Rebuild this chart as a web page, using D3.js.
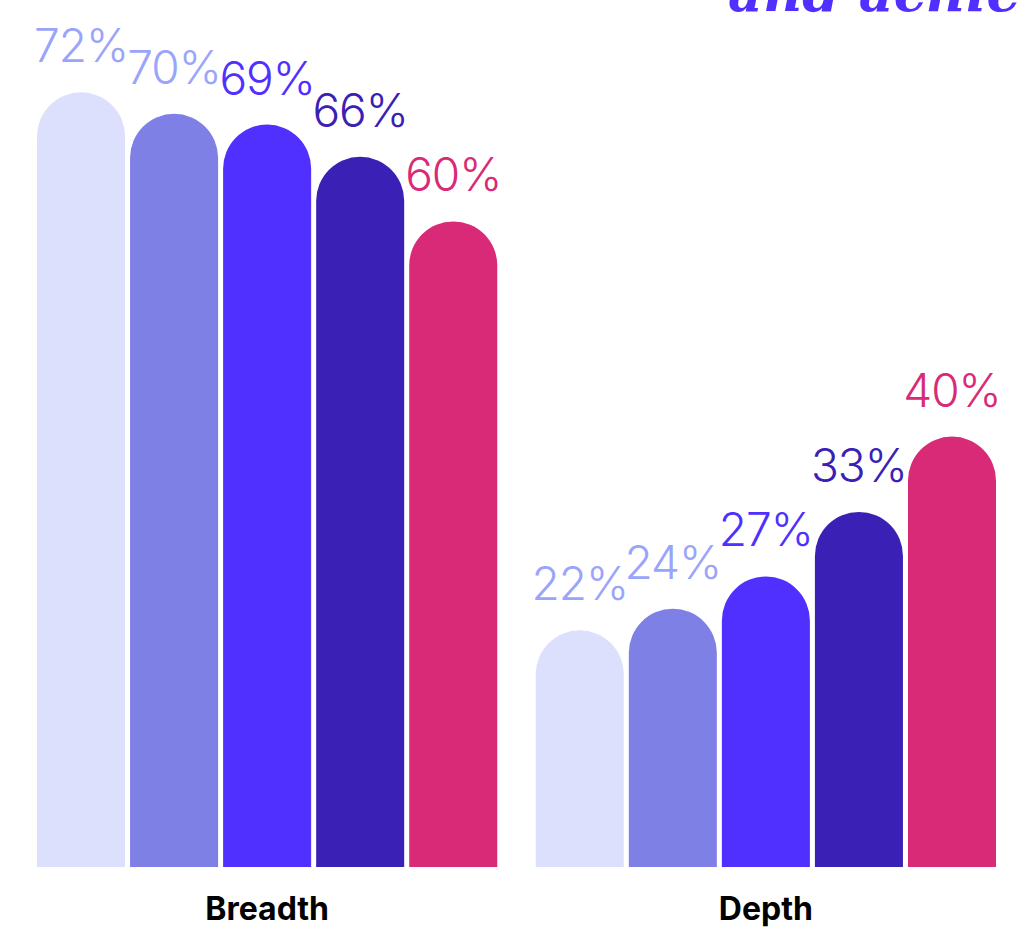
<!DOCTYPE html>
<html>
<head>
<meta charset="utf-8">
<script src="https://cdn.jsdelivr.net/npm/d3@7"></script>
<style>
  body { margin: 0; background: #fff; }
  svg { display: block; font-family: Inter, "Noto Sans", sans-serif; }
</style>
</head>
<body>
<svg id="chart"></svg>
<script>
var WIDTH = 1019;
var HEIGHT = 930;

// data
var GROUPS = ["Breadth", "Depth"];
var SERIES = ["s1", "s2", "s3", "s4", "s5"];
var BREADTH = [72, 70, 69, 66, 60];
var DEPTH = [22, 24, 27, 33, 40];
var BAR_COLORS = ["#dde0fc", "#7f80e6", "#5030ff", "#3a20b5", "#d92a77"];
var LABEL_COLORS = ["#9aa4fb", "#9aa4fb", "#5030ff", "#3a20b5", "#d92a77"];
var TITLE = "and achieve";

var VALUES = {Breadth: BREADTH, Depth: DEPTH};

var BASELINE = 867;

var svg = d3.select("#chart").attr("width", WIDTH).attr("height", HEIGHT);

var x0 = d3.scaleBand().domain(GROUPS).range([37, 996]).paddingInner(0.0772).paddingOuter(0);
var x1 = d3.scaleBand().domain(SERIES).range([0, x0.bandwidth()]).paddingInner(0.054).paddingOuter(0);
var y = d3.scaleLinear().domain([0, 80]).range([BASELINE, BASELINE - 80 * 10.76]);

// bar with rounded top (half-circle cap)
function barPath(x, w, top) {
    var r = w / 2;
    return "M" + x + "," + BASELINE +
        "V" + (top + r) +
        "A" + r + "," + r + " 0 0 1 " + (x + w) + "," + (top + r) +
        "V" + BASELINE + "Z";
}

// title, cropped at the top edge like the source
svg.append("text")
    .attr("x", 728).attr("y", 11)
    .attr("fill", "#5030ff")
    .style("font-family", "'DejaVu Serif', serif")
    .style("font-style", "italic")
    .style("font-weight", "bold")
    .style("font-size", "54px")
    .text(TITLE);

var groups = svg.selectAll("g.group").data(GROUPS).enter().append("g")
    .attr("class", "group")
    .attr("transform", function(g) { return "translate(" + x0(g) + ",0)"; });

function rows(g) {
    return SERIES.map(function(s, i) { return {key: s, i: i, v: VALUES[g][i]}; });
}

groups.selectAll("path").data(rows)
    .enter().append("path")
    .attr("d", function(d) { return barPath(x1(d.key), x1.bandwidth(), y(d.v)); })
    .attr("fill", function(d) { return BAR_COLORS[d.i]; });

groups.selectAll("text.val").data(rows)
    .enter().append("text")
    .attr("class", "val")
    .attr("x", function(d) { return x1(d.key) + x1.bandwidth() / 2; })
    .attr("y", function(d) { return y(d.v) - 30; })
    .attr("text-anchor", "middle")
    .attr("fill", function(d) { return LABEL_COLORS[d.i]; })
    .style("font-size", "46px")
    .style("letter-spacing", "-1px")
    .style("font-weight", 300)
    .text(function(d) { return d.v + "%"; });

groups.append("text")
    .attr("x", x0.bandwidth() / 2)
    .attr("y", 920)
    .attr("text-anchor", "middle")
    .attr("fill", "#000")
    .style("font-size", "32px")
    .style("font-weight", 700)
    .text(function(g) { return g; });
</script>
</body>
</html>
